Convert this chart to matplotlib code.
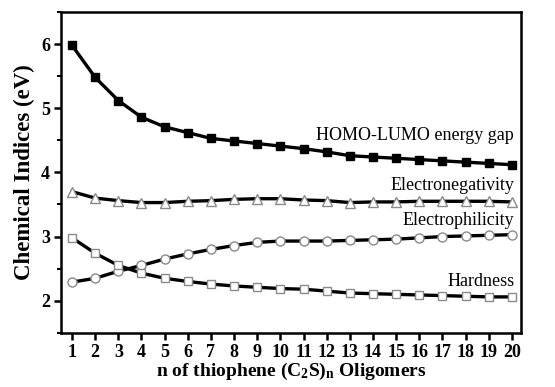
import numpy as np
import matplotlib
matplotlib.use('Agg')
import matplotlib.pyplot as plt
from matplotlib.ticker import MultipleLocator

plt.rcParams['font.family'] = 'Liberation Serif'
plt.rcParams['mathtext.fontset'] = 'custom'
plt.rcParams['mathtext.rm'] = 'Liberation Serif:bold'
plt.rcParams['mathtext.it'] = 'Liberation Serif:bold'
plt.rcParams['mathtext.bf'] = 'Liberation Serif:bold'

n = np.arange(1, 21)
gap = [5.98, 5.48, 5.12, 4.86, 4.71, 4.62, 4.53, 4.49, 4.45, 4.41,
       4.37, 4.32, 4.26, 4.24, 4.22, 4.20, 4.18, 4.16, 4.14, 4.12]
electroneg = [3.70, 3.60, 3.56, 3.53, 3.53, 3.55, 3.56, 3.58, 3.59, 3.59,
              3.57, 3.56, 3.53, 3.54, 3.54, 3.55, 3.55, 3.55, 3.55, 3.54]
electrophil = [2.29, 2.35, 2.46, 2.55, 2.65, 2.73, 2.80, 2.86, 2.91, 2.93,
               2.93, 2.93, 2.94, 2.95, 2.96, 2.98, 3.00, 3.01, 3.02, 3.03]
hardness = [2.98, 2.74, 2.55, 2.43, 2.35, 2.30, 2.26, 2.23, 2.21, 2.19,
            2.18, 2.15, 2.12, 2.11, 2.10, 2.09, 2.08, 2.07, 2.06, 2.06]

names = ['HOMO-LUMO energy gap', 'Electronegativity', 'Electrophilicity', 'Hardness']
label_y = [4.58, 3.80, 3.25, 2.30]

fig = plt.figure(figsize=(5.55, 3.87), dpi=100)
ax = fig.add_axes([0.11, 0.14, 0.829, 0.829])

gray = '#8a8a8a'
ax.plot(n, gap, '-s', color='black', lw=2.4, ms=5.5, mfc='black', mec='black')
ax.plot(n, electroneg, '-^', color='black', lw=2.4, ms=7, mfc='white', mec=gray, mew=1)
ax.plot(n, electrophil, '-o', color='black', lw=2.4, ms=6.5, mfc='white', mec=gray, mew=1)
ax.plot(n, hardness, '-s', color='black', lw=2.4, ms=5.5, mfc='white', mec=gray, mew=1)

for name, yy in zip(names, label_y):
    ax.text(20.1, yy, name, ha='right', va='center', fontsize=13)

ax.set_xlim(0.525, 20.4)
ax.set_ylim(1.5, 6.5)
ax.set_xticks(n)
ax.yaxis.set_major_locator(MultipleLocator(1))
ax.yaxis.set_minor_locator(MultipleLocator(0.5))
ax.tick_params(axis='both', which='major', direction='out', length=5, width=1.8,
               labelsize=13, pad=3)
ax.tick_params(axis='y', which='minor', direction='out', length=3, width=1.5)
for lab in ax.get_xticklabels() + ax.get_yticklabels():
    lab.set_fontweight('bold')
for s in ax.spines.values():
    s.set_linewidth(1.8)

ax.set_ylabel('Chemical Indices (eV)', fontsize=16.5, fontweight='bold', labelpad=4)
ax.set_xlabel(r'n of thiophene (C$_2$S)$_n$ Oligomers', fontsize=14,
              fontweight='bold', labelpad=0)

fig.savefig('out.png', dpi=100)
